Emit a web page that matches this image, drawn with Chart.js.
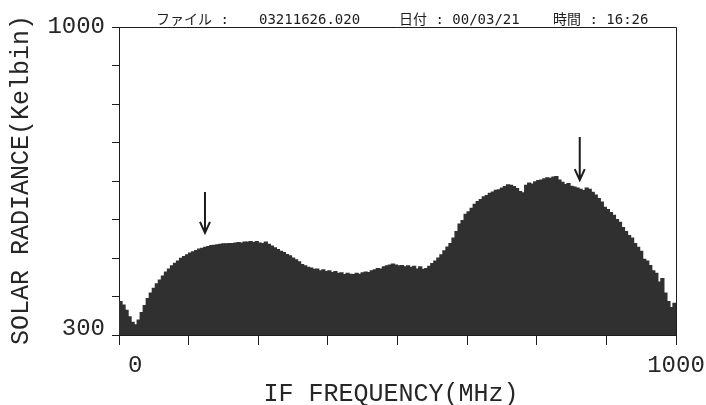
<!DOCTYPE html>
<html lang="ja">
  <head>
    <meta charset="UTF-8" />
    <title>SOLAR RADIANCE - IF FREQUENCY</title>
    <script src="https://cdn.jsdelivr.net/npm/chart.js"></script>
    <style>
      html, body { margin: 0; padding: 0; background: #fff; }
      canvas { display: block; }
    </style>
  </head>
  <body>
    <canvas id="spectrum" width="706" height="405"></canvas>

    <script>
      // 184 bins (Kelvin), left to right
      const radiance = [
        376, 368, 356, 341, 329, 323, 334, 351, 367, 383,
        395, 406, 416, 425, 434, 443, 450, 457, 463, 468,
        474, 478, 482, 486, 489, 492, 495, 497, 499, 501,
        503, 504, 505, 506, 507, 507, 508, 508, 509, 510,
        509, 511, 511, 512, 510, 512, 509, 508, 511, 506,
        502, 498, 494, 490, 487, 483, 480, 475, 471, 466,
        460, 457, 454, 452, 449, 450, 446, 448, 444, 446,
        442, 444, 440, 441, 437, 440, 438, 437, 440, 438,
        441, 443, 442, 446, 448, 451, 450, 455, 457, 459,
        461, 459, 457, 458, 455, 457, 454, 456, 450, 455,
        449, 451, 456, 462, 468, 475, 482, 491, 500, 508,
        520, 535, 552, 560, 574, 580, 588, 597, 603, 608,
        614, 617, 622, 625, 629, 630, 634, 637, 641, 640,
        637, 633, 626, 623, 640, 645, 643, 648, 651, 652,
        655, 657, 656, 659, 660, 652, 647, 642, 644, 638,
        636, 634, 631, 628, 634, 631, 624, 618, 610, 602,
        590, 585, 578, 572, 562, 556, 544, 535, 526, 520,
        508, 499, 490, 472, 468, 458, 446, 440, 420, 428,
        395, 376, 362, 372,
      ];

      const freqMin = -30;   // left edge of the frame (MHz)
      const freqMax = 1000;
      const radMin = 300;
      const radMax = 1000;

      const xTickLabels = ["0", "1000"];
      const xTickValues = [0, 1000];
      const yTickLabels = ["300", "1000"];
      const yTickValues = [300, 1000];

      // arrows marking the two humps: frequency, tip and tail (Kelvin)
      const arrowFreq = [129, 822];
      const arrowTip = [532, 652];
      const arrowTail = [625, 750];

      const header = [
        ["ファイル :", 156],
        ["03211626.020", 259],
        ["日付 : 00/03/21", 399],
        ["時間 : 16:26", 553],
      ];

      const MONO = '"Liberation Mono", "DejaVu Sans Mono", monospace';
      const INK = "#1c1c1c";

      const binWidth = (freqMax - freqMin) / radiance.length;
      const points = radiance.map((v, i) => ({ x: freqMin + (i + 0.5) * binWidth, y: v }));

      const evenTicks = (min, max, n) =>
        Array.from({ length: n + 1 }, (_, k) => ({ value: min + (k * (max - min)) / n }));

      const decorations = {
        id: "decorations",
        afterDraw(chart) {
          const { ctx, chartArea: a, scales } = chart;
          const x = scales.x;
          const y = scales.y;
          ctx.save();

          // top and right side of the frame
          ctx.strokeStyle = INK;
          ctx.lineWidth = 1;
          ctx.beginPath();
          ctx.moveTo(a.left, a.top + 0.5);
          ctx.lineTo(a.right + 0.5, a.top + 0.5);
          ctx.lineTo(a.right + 0.5, a.bottom);
          ctx.stroke();

          // arrows
          ctx.lineWidth = 2;
          arrowFreq.forEach((f, i) => {
            const px = x.getPixelForValue(f);
            const tip = y.getPixelForValue(arrowTip[i]);
            const tail = y.getPixelForValue(arrowTail[i]);
            ctx.beginPath();
            ctx.moveTo(px, tail);
            ctx.lineTo(px, tip);
            ctx.moveTo(px - 5, tip - 11);
            ctx.lineTo(px, tip);
            ctx.lineTo(px + 5, tip - 11);
            ctx.stroke();
          });

          // tick labels
          ctx.fillStyle = "#262626";
          ctx.font = "24px " + MONO;
          ctx.textAlign = "right";
          yTickValues.forEach((v, i) => {
            const py = y.getPixelForValue(v);
            ctx.textBaseline = v === radMax ? "middle" : "alphabetic";
            ctx.fillText(yTickLabels[i], a.left - 14, py);
          });
          ctx.textAlign = "center";
          ctx.textBaseline = "middle";
          xTickValues.forEach((v, i) => {
            ctx.fillText(xTickLabels[i], x.getPixelForValue(v), 366);
          });

          // axis titles
          ctx.font = "25px " + MONO;
          ctx.fillText("IF FREQUENCY(MHz)", 391, 394);
          ctx.save();
          ctx.translate(21, 180);
          ctx.rotate(-Math.PI / 2);
          ctx.fillText("SOLAR RADIANCE(Kelbin)", 0, 0);
          ctx.restore();

          // file / date / time header
          ctx.fillStyle = INK;
          ctx.font = '14px "DejaVu Sans Mono", "Noto Sans CJK JP", monospace';
          ctx.textAlign = "left";
          ctx.textBaseline = "alphabetic";
          header.forEach(([text, px]) => ctx.fillText(text, px, 24));

          ctx.restore();
        },
      };

      new Chart(document.getElementById("spectrum"), {
        type: "bar",
        data: {
          datasets: [
            {
              data: points,
              backgroundColor: "#303030",
              borderWidth: 0,
              inflateAmount: 0.6,
              barPercentage: 1,
              categoryPercentage: 1,
            },
          ],
        },
        options: {
          responsive: false,
          animation: false,
          devicePixelRatio: 1,
          layout: { padding: { top: 27, right: 30, left: 0, bottom: 0 } },
          plugins: { legend: { display: false }, tooltip: { enabled: false } },
          scales: {
            x: {
              type: "linear",
              offset: false,
              min: freqMin,
              max: freqMax,
              afterBuildTicks: (s) => { s.ticks = evenTicks(freqMin, freqMax, 8); },
              afterFit: (s) => { s.height = 70; },
              ticks: { display: false },
              grid: { offset: false, drawOnChartArea: false, tickLength: 10, color: INK },
              border: { display: true, color: INK, width: 1 },
            },
            y: {
              min: radMin,
              max: radMax,
              afterBuildTicks: (s) => { s.ticks = evenTicks(radMin, radMax, 8); },
              afterFit: (s) => { s.width = 119; },
              ticks: { display: false },
              grid: { drawOnChartArea: false, tickLength: 7, color: INK },
              border: { display: true, color: INK, width: 1 },
            },
          },
        },
        plugins: [decorations],
      });
    </script>
  </body>
</html>
